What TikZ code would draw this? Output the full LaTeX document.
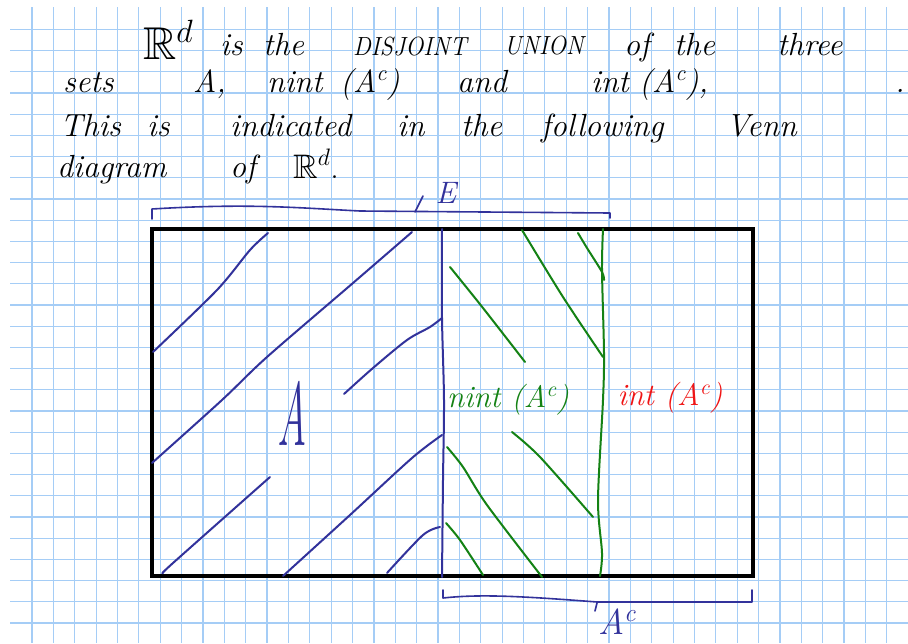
\documentclass[tikz,border=0pt]{standalone}
\usepackage{fix-cm}
\usepackage{amssymb}
\usepackage{tikz}
\usetikzlibrary{positioning}
\definecolor{gridblue}{RGB}{165,205,246}
\definecolor{penblue}{RGB}{50,50,155}
\definecolor{pengreen}{RGB}{20,130,20}
\definecolor{penred}{RGB}{240,20,20}
\newcommand{\Acomp}{(A\textsuperscript{c})}

\begin{document}
\begin{tikzpicture}[x=1pt, y=-1pt,
    gridline/.style={gridblue, line width=1.2pt},
    boxframe/.style={draw=black, line width=3.5pt},
    bluepen/.style={penblue, line width=2pt, line cap=round, line join=round},
    greenpen/.style={pengreen, line width=2pt, line cap=round, line join=round},
    hand/.style={inner sep=0pt, anchor=base west, font=\fontsize{32}{34}\selectfont\itshape},
    capshand/.style={hand, xscale=0.75, yscale=0.82},
    bighand/.style={hand, font=\fontsize{46}{48}\selectfont},
    setname/.style={inner sep=0pt, font=\fontsize{31}{33}\selectfont\itshape}]

    % Paper and grid
    \useasboundingbox (0,0) rectangle (908,643);
    \fill[white] (0,0) rectangle (908,643);
    \foreach \k in {0,...,41}
        \draw[gridline] ({32+21.37*\k},7) -- ({32+21.37*\k},643);
    \foreach \k in {0,...,29}
        \draw[gridline] (10,{29.3+21.2*\k}) -- (908,{29.3+21.2*\k});

    % Text
    \node[bighand] (rdtop) at (143,59) {$\mathbb{R}^d$};
    \foreach \w/\x [count=\i] in {is/220, the/263, of/624, the/674, three/777}
        \node[hand] (lineA\i) at (\x,55) {\w};
    \node[capshand] (disjoint) at (353,55) {DISJOINT};
    \node[capshand] (union) at (504,54) {UNION};
    \foreach \w/\x [count=\i] in {sets/63, {A,}/193, nint/267, \Acomp/340, and/457, int/591, {\Acomp,}/639, ./895}
        \node[hand] (lineB\i) at (\x,92) {\w};
    \foreach \w/\x [count=\i] in {This/60, is/147, indicated/230, in/397, the/461, following/541, Venn/726}
        \node[hand] (lineC\i) at (\x,136) {\w};
    \foreach \w/\x [count=\i] in {diagram/57, of/230}
        \node[hand] (lineD\i) at (\x,177) {\w};
    \node[hand, font=\fontsize{34}{36}\selectfont] (rdend) at (293,178) {$\mathbb{R}^d$.};

    % Venn diagram of R^d
    \draw[boxframe] (152,229) rectangle (753,576);
    \draw[bluepen] plot[smooth] coordinates {(442,229) (442,318) (444,400) (443,480) (442,577)};
    \draw[greenpen] plot[smooth] coordinates {(603,229) (602,270) (604,353) (603,400) (598,500) (602,553) (600,576)};

    % Hatching of A
    \draw[bluepen] plot[smooth] coordinates {(153,352) (217,290) (250,250) (268,233)};
    \draw[bluepen] plot[smooth] coordinates {(152,463) (222,400) (267,357) (353,283) (397,245) (412,232)};
    \draw[bluepen] plot[smooth] coordinates {(344,394) (373,368) (407,340) (430,327) (442,318)};
    \draw[bluepen] plot[smooth] coordinates {(163,573) (173,563) (270,477)};
    \draw[bluepen] plot[smooth] coordinates {(283,576) (350,515) (412,458) (442,435)};
    \draw[bluepen] plot[smooth] coordinates {(387,573) (423,535) (440,527)};

    % Hatching of nint(A^c)
    \draw[greenpen] plot[smooth] coordinates {(450,267) (483,308) (525,362)};
    \draw[greenpen] plot[smooth] coordinates {(522,230) (563,297) (603,357)};
    \draw[greenpen] plot[smooth] coordinates {(578,233) (587,248) (602,272) (604,280)};
    \draw[greenpen] plot[smooth] coordinates {(512,432) (540,457) (593,517)};
    \draw[greenpen] plot[smooth] coordinates {(447,447) (463,467) (487,505) (542,577)};
    \draw[greenpen] plot[smooth] coordinates {(446,523) (460,540) (483,575)};

    % Braces
    \draw[bluepen, line width=1.6pt] (152,219) -- (152,209) .. controls (250,203) and (300,208) .. (360,211) -- (610,213) -- (610,218);
    \draw[bluepen, line width=1.6pt] (415,212) -- (423,196);
    \draw[bluepen, line width=1.6pt] (443,590) -- (443,598) .. controls (480,594) and (520,596) .. (597,602) -- (752,602) -- (752,590);
    \draw[bluepen, line width=1.6pt] (597,603) -- (595,611);

    % Labels
    \node[setname, text=penblue] (elabel) at (446,193) {E};
    \node[setname, text=penblue, font=\fontsize{36}{36}\selectfont\itshape] (aclabel) at (617,622) {A\textsuperscript{c}};
    \node[setname, text=penblue, font=\fontsize{90}{90}\selectfont\itshape, xscale=0.45] (alabel) at (292,413) {A};
    \node[setname, text=pengreen] (nintlabel) at (508,400) {nint \Acomp};
    \node[setname, text=penred] (intlabel) at (670,398) {int \Acomp};

\end{tikzpicture}
\end{document}
